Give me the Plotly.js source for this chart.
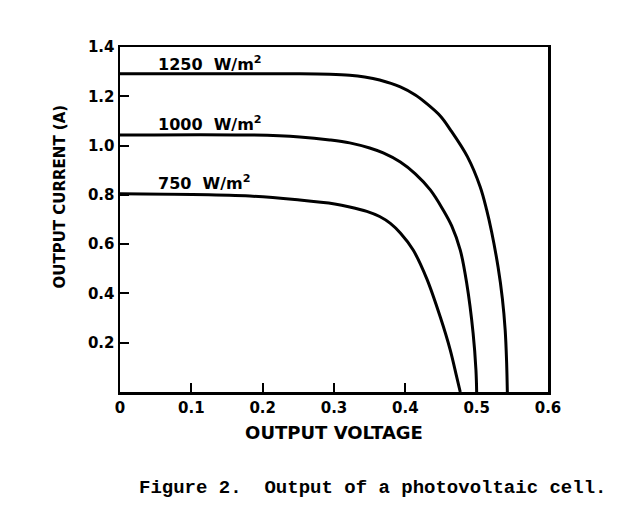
<!DOCTYPE html>
<html>
<head>
<meta charset="utf-8">
<script src="https://cdn.plot.ly/plotly-3.0.1.min.js"></script>
<style>html,body{margin:0;padding:0;background:#fff;}#chart{width:637px;height:518px;}</style>
</head>
<body>
<div id="chart"></div>
<script>
// Output voltage (V) and output current (A) for each irradiance level
const v1250 = [0, 0.252, 0.294, 0.322, 0.343, 0.364, 0.393, 0.414, 0.430, 0.449, 0.463, 0.487, 0.505, 0.514, 0.521, 0.530, 0.536, 0.540, 0.542, 0.543];
const i1250 = [1.291, 1.291, 1.289, 1.285, 1.278, 1.266, 1.238, 1.205, 1.170, 1.120, 1.065, 0.955, 0.832, 0.739, 0.649, 0.507, 0.380, 0.250, 0.120, 0];
const v1000 = [0, 0.182, 0.252, 0.294, 0.322, 0.350, 0.369, 0.393, 0.414, 0.435, 0.453, 0.465, 0.477, 0.486, 0.495, 0.499, 0.500];
const i1000 = [1.043, 1.043, 1.035, 1.023, 1.011, 0.990, 0.970, 0.933, 0.885, 0.820, 0.739, 0.674, 0.576, 0.442, 0.239, 0.089, 0];
const v750 = [0, 0.182, 0.252, 0.301, 0.322, 0.346, 0.364, 0.379, 0.393, 0.411, 0.430, 0.449, 0.463, 0.472, 0.477];
const i750 = [0.804, 0.795, 0.779, 0.763, 0.751, 0.733, 0.712, 0.684, 0.645, 0.576, 0.460, 0.304, 0.170, 0.061, 0];
const seriesLabels = ["1250  W/m<sup>2</sup>", "1000  W/m<sup>2</sup>", "750  W/m<sup>2</sup>"];
const labelY = [1.335, 1.09, 0.85];
const xTicks = [0, 0.1, 0.2, 0.3, 0.4, 0.5, 0.6];
const xTickText = ["0", "0.1", "0.2", "0.3", "0.4", "0.5", "0.6"];
const yTicks = [0.2, 0.4, 0.6, 0.8, 1.0, 1.2, 1.4];
const yTickText = ["0.2", "0.4", "0.6", "0.8", "1.0", "1.2", "1.4"];
const xTitle = "OUTPUT VOLTAGE";
const yTitle = "OUTPUT CURRENT (A)";
const caption = "Figure 2.  Output of a photovoltaic cell.";

const font = "DejaVu Sans, Arial, sans-serif";
const mk = (x, y) => ({x: x, y: y, type: "scatter", mode: "lines",
  line: {color: "#000", width: 3, shape: "spline", smoothing: 1},
  hoverinfo: "skip", showlegend: false});
const data = [mk(v1250, i1250), mk(v1000, i1000), mk(v750, i750)];

const annotations = seriesLabels.map((t, k) => ({
  x: 0.05, y: labelY[k], xref: "x", yref: "y", text: "<b>" + t + "</b>",
  showarrow: false, xanchor: "left", yanchor: "middle",
  font: {family: font, size: 16, color: "#000"}
}));
annotations.push({
  x: 0.0397, y: -0.277, xref: "paper", yref: "paper",
  text: "<b>" + caption.replace(/ /g, "&nbsp;") + "</b>",
  showarrow: false, xanchor: "left", yanchor: "middle",
  font: {family: "Liberation Mono, Courier New, monospace", size: 19, color: "#000"}
});
annotations.push({
  x: -0.14, y: 0.567, xref: "paper", yref: "paper",
  text: "<b>" + yTitle + "</b>", textangle: -90,
  showarrow: false, xanchor: "center", yanchor: "middle",
  font: {family: font, size: 15, color: "#000"}
});

const layout = {
  width: 637, height: 518,
  margin: {l: 120, r: 89, t: 47, b: 126},
  paper_bgcolor: "#fff", plot_bgcolor: "#fff",
  xaxis: {range: [0, 0.6], tickvals: xTicks, ticktext: xTickText,
    ticks: "inside", ticklen: 9, tickwidth: 2, tickcolor: "#000",
    showgrid: false, zeroline: false, showline: true, mirror: true,
    linecolor: "#000", linewidth: 2.5,
    tickfont: {family: font, size: 15, color: "#000", weight: "bold"},
    title: {text: "<b>" + xTitle + "</b>", font: {family: font, size: 18, color: "#000"}, standoff: 11}},
  yaxis: {range: [0, 1.4], tickvals: yTicks, ticktext: yTickText,
    ticks: "inside", ticklen: 9, tickwidth: 2, tickcolor: "#000",
    showgrid: false, zeroline: false, showline: true, mirror: true,
    linecolor: "#000", linewidth: 2.5, ticklabelstandoff: 0,
    tickfont: {family: font, size: 15, color: "#000", weight: "bold"}},
  annotations: annotations
};
Plotly.newPlot("chart", data, layout, {displayModeBar: false, staticPlot: true});
</script>
</body>
</html>
